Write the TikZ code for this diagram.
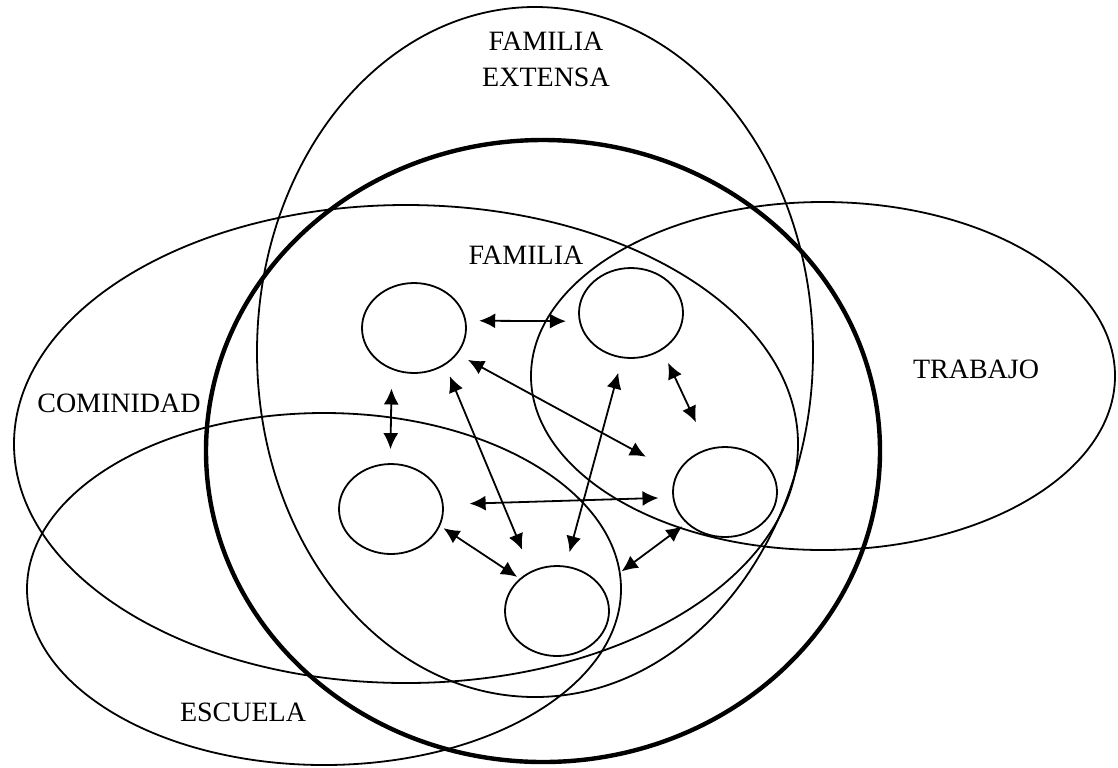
\documentclass[tikz,border=0pt]{standalone}
\usepackage{fontspec}
\setmainfont{Liberation Serif}
\usetikzlibrary{arrows.meta,shapes.geometric}
\tikzset{
	miembro/.style={draw,ellipse,line width=.9pt,inner sep=0pt,minimum width=52pt,minimum height=45pt},
	lazo/.style={<->,line width=.9pt},
	rotulo/.style={font=\fontsize{14}{17}\selectfont,align=center,inner sep=0pt},
}
\begin{document}
\begin{tikzpicture}[>={Latex[length=8pt,width=7.5pt]},x=.5pt,y=-.5pt]
	\useasboundingbox (0,0) rectangle (1118,767);
	\begin{scope}[line width=.9pt]
		\draw (535,352) ellipse [x radius=278,y radius=345];
		\draw (406,444) ellipse [x radius=392,y radius=239];
		\draw (823,376) ellipse [x radius=292,y radius=174];
		\draw (324,589) ellipse [x radius=297,y radius=176];
	\end{scope}
	\begin{scope}[line width=2.2pt]
		\draw (543,451) ellipse [x radius=337,y radius=311];
	\end{scope}
	\begin{scope}[rotulo]
		\node (extensa) at (546,59) {FAMILIA\\[1pt]EXTENSA};
		\node (familia) at (526,255) {FAMILIA};
		\node (comunidad) at (119,403) {COMINIDAD};
		\node (trabajo) at (976,369) {TRABAJO};
		\node (escuela) at (243,712) {ESCUELA};
	\end{scope}
	\begin{scope}
		\node[miembro] (m1) at (414,328) {};
		\node[miembro] (m2) at (631,313) {};
		\node[miembro] (m3) at (391,509) {};
		\node[miembro] (m4) at (725,492) {};
		\node[miembro] (m5) at (557,611) {};
	\end{scope}
	\begin{scope}[lazo]
		\draw[shorten <=6.5pt,shorten >=6.5pt] (m1.8) -- (m2.189);
		\draw[shorten <=7pt,shorten >=14.5pt] (m2.-50) -- (m4.111);
		\draw[shorten <=9.4pt,shorten >=7pt] (m1.-118) -- (m3.91);
		\draw[shorten <=6pt,shorten >=17.5pt] (m1.-31) -- (m4.159);
		\draw[shorten <=6pt,shorten >=11.5pt] (m1.-50) -- (m5.123);
		\draw[shorten <=7.5pt,shorten >=7pt] (m2.-101) -- (m5.79);
		\draw[shorten <=13pt,shorten >=7pt] (m3.5) -- (m4.186);
		\draw[shorten <=2pt,shorten >=1.5pt] (m3.-19) -- (m5.139);
		\draw[shorten <=2.5pt,shorten >=12.5pt] (m4.219) -- (m5.29);
	\end{scope}
\end{tikzpicture}
\end{document}
